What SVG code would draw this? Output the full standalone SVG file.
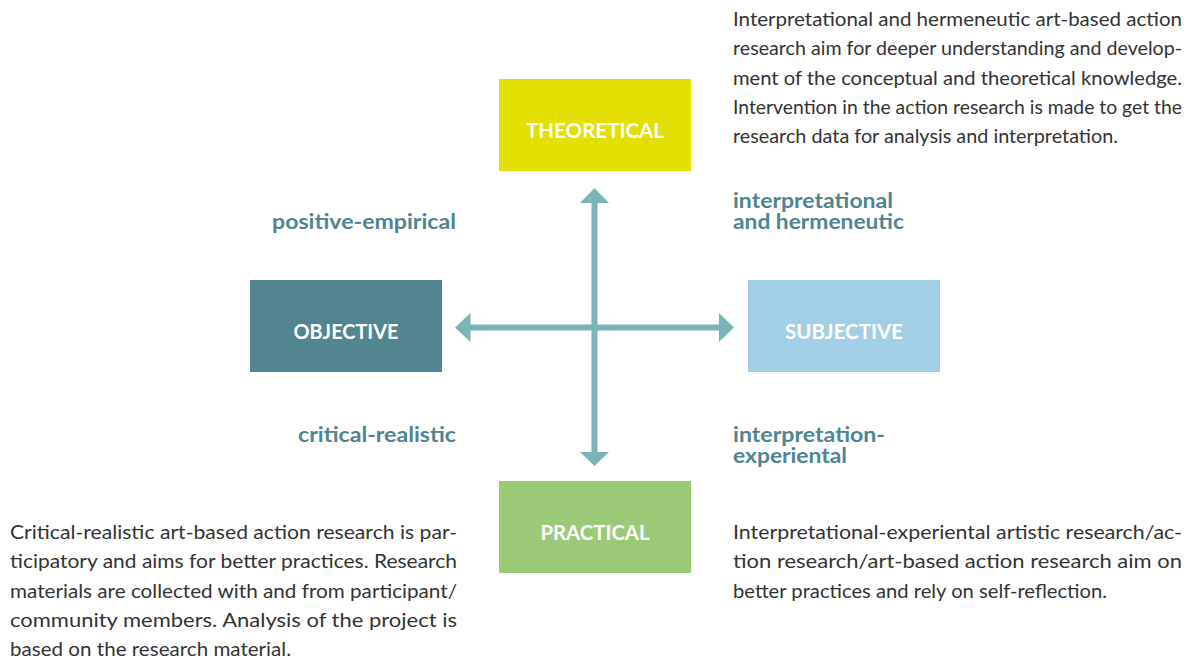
<svg xmlns="http://www.w3.org/2000/svg" width="1194" height="658" viewBox="0 0 1194 658">
<style>
.body{font-family:Lato,"Liberation Sans",sans-serif;font-size:19px;fill:#333333}
.lbl{font-family:Lato,"Liberation Sans",sans-serif;font-size:20px;font-weight:bold;fill:#4f8592}
.box{font-family:Lato,"Liberation Sans",sans-serif;font-size:21px;font-weight:bold;fill:#ffffff;text-anchor:middle}
.ax{stroke:#7ab4b9;stroke-width:6;fill:none}
.ah{fill:#7ab4b9}
</style>
<rect width="1194" height="658" fill="#ffffff"/>
<g id="connectors">
<line class="ax" x1="594.5" y1="200" x2="594.5" y2="455"/>
<line class="ax" x1="467" y1="327.5" x2="722" y2="327.5"/>
<polygon class="ah" points="594.5,188 609,203 580,203"/>
<polygon class="ah" points="594.5,466 609,452 580,452"/>
<polygon class="ah" points="455,327.5 470.5,313 470.5,342"/>
<polygon class="ah" points="734,327.5 719,313 719,342"/>
</g>
<g id="theoretical">
<rect x="499" y="79" width="192" height="92" fill="#e3df00"/>
<text class="box" x="595" y="138" textLength="138" lengthAdjust="spacingAndGlyphs">THEORETICAL</text>
</g>
<g id="objective">
<rect x="250" y="280" width="192" height="92" fill="#528590"/>
<text class="box" x="346" y="339" textLength="105" lengthAdjust="spacingAndGlyphs">OBJECTIVE</text>
</g>
<g id="subjective">
<rect x="748" y="280" width="192" height="92" fill="#a3cfe6"/>
<text class="box" x="844" y="339" textLength="118" lengthAdjust="spacingAndGlyphs">SUBJECTIVE</text>
</g>
<g id="practical">
<rect x="499" y="481" width="192" height="92" fill="#9cc977"/>
<text class="box" x="595" y="540" textLength="109" lengthAdjust="spacingAndGlyphs">PRACTICAL</text>
</g>
<g id="labels">
<text class="lbl" x="272" y="229" textLength="184" lengthAdjust="spacingAndGlyphs">positive-empirical</text>
<text class="lbl" x="298" y="442" textLength="158" lengthAdjust="spacingAndGlyphs">critical-realistic</text>
<text class="lbl" x="733" y="208" textLength="160" lengthAdjust="spacingAndGlyphs">interpretational</text>
<text class="lbl" x="733" y="229" textLength="171" lengthAdjust="spacingAndGlyphs">and hermeneutic</text>
<text class="lbl" x="733" y="442" textLength="152" lengthAdjust="spacingAndGlyphs">interpretation-</text>
<text class="lbl" x="733" y="463" textLength="114" lengthAdjust="spacingAndGlyphs">experiental</text>
</g>
<g id="text-theoretical">
<text class="body" x="733" y="26" textLength="449" lengthAdjust="spacingAndGlyphs">Interpretational and hermeneutic art-based action</text>
<text class="body" x="733" y="55" textLength="449" lengthAdjust="spacingAndGlyphs">research aim for deeper understanding and develop-</text>
<text class="body" x="733" y="85" textLength="449" lengthAdjust="spacingAndGlyphs">ment of the conceptual and theoretical knowledge.</text>
<text class="body" x="733" y="114" textLength="449" lengthAdjust="spacingAndGlyphs">Intervention in the action research is made to get the</text>
<text class="body" x="733" y="143" textLength="385" lengthAdjust="spacingAndGlyphs">research data for analysis and interpretation.</text>
</g>
<g id="text-critical">
<text class="body" x="10" y="539" textLength="447" lengthAdjust="spacingAndGlyphs">Critical-realistic art-based action research is par-</text>
<text class="body" x="10" y="568" textLength="447" lengthAdjust="spacingAndGlyphs">ticipatory and aims for better practices. Research</text>
<text class="body" x="10" y="598" textLength="447" lengthAdjust="spacingAndGlyphs">materials are collected with and from participant/</text>
<text class="body" x="10" y="627" textLength="447" lengthAdjust="spacingAndGlyphs">community members. Analysis of the project is</text>
<text class="body" x="10" y="656" textLength="281" lengthAdjust="spacingAndGlyphs">based on the research material.</text>
</g>
<g id="text-experiental">
<text class="body" x="733" y="539" textLength="449" lengthAdjust="spacingAndGlyphs">Interpretational-experiental artistic research/ac-</text>
<text class="body" x="733" y="568" textLength="449" lengthAdjust="spacingAndGlyphs">tion research/art-based action research aim on</text>
<text class="body" x="733" y="598" textLength="374" lengthAdjust="spacingAndGlyphs">better practices and rely on self-reflection.</text>
</g>
</svg>
